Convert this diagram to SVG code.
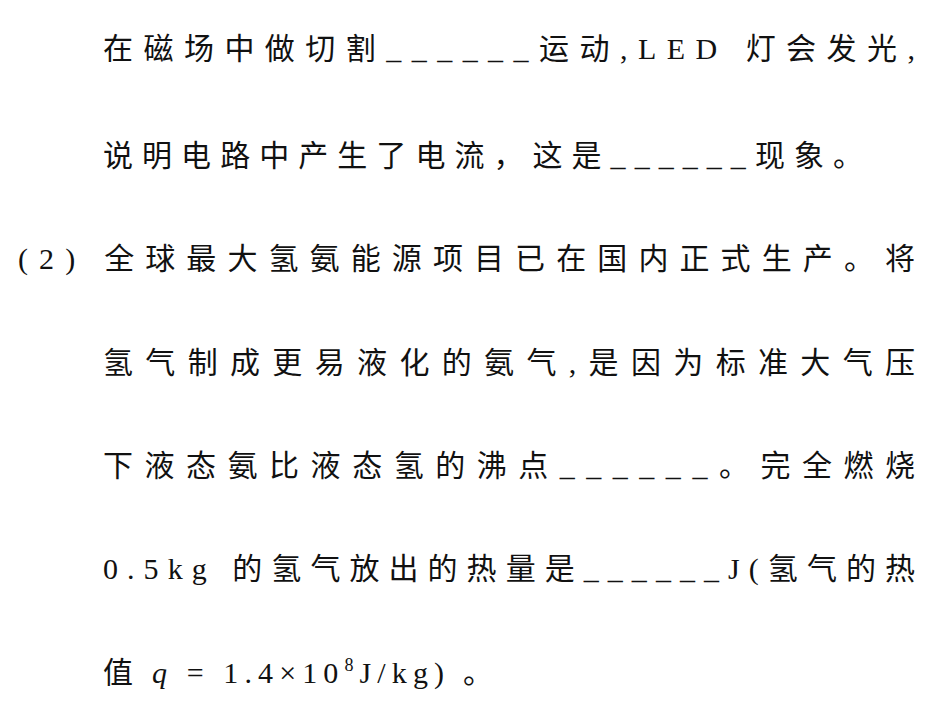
<svg xmlns="http://www.w3.org/2000/svg" width="925" height="720" viewBox="0 0 925 720">
<style>
text{font-family:"Noto Sans CJK SC","Noto Sans",sans-serif;font-size:30px;fill:#111}
.l{font-family:"Liberation Serif",serif}
.i{font-family:"Liberation Serif",serif;font-style:italic}
</style>
<rect width="925" height="720" fill="#fff"/>
<text x="103" y="59" textLength="812" lengthAdjust="spacing">在磁场中做切割<tspan class="l">______</tspan>运动<tspan class="l">,LED </tspan>灯会发光<tspan class="l">,</tspan></text>
<text x="103" y="166" textLength="760" lengthAdjust="spacing">说明电路中产生了电流，这是<tspan class="l">______</tspan>现象。</text>
<text x="18" y="269" textLength="897" lengthAdjust="spacing"><tspan class="l">(2)</tspan> 全球最大氢氨能源项目已在国内正式生产。将</text>
<text x="103" y="373" textLength="812" lengthAdjust="spacing">氢气制成更易液化的氨气<tspan class="l">,</tspan>是因为标准大气压</text>
<text x="103" y="476" textLength="812" lengthAdjust="spacing">下液态氨比液态氢的沸点<tspan class="l">______</tspan>。完全燃烧</text>
<text x="103" y="579" textLength="812" lengthAdjust="spacing"><tspan class="l">0.5kg </tspan>的氢气放出的热量是<tspan class="l">______J(</tspan>氢气的热</text>
<text x="103" y="683" textLength="390" lengthAdjust="spacing">值 <tspan class="i">q</tspan><tspan class="l"> = 1.4×10</tspan><tspan class="l" font-size="18" dy="-12">8</tspan><tspan class="l" dy="12">J/kg)</tspan> 。</text>
</svg>
